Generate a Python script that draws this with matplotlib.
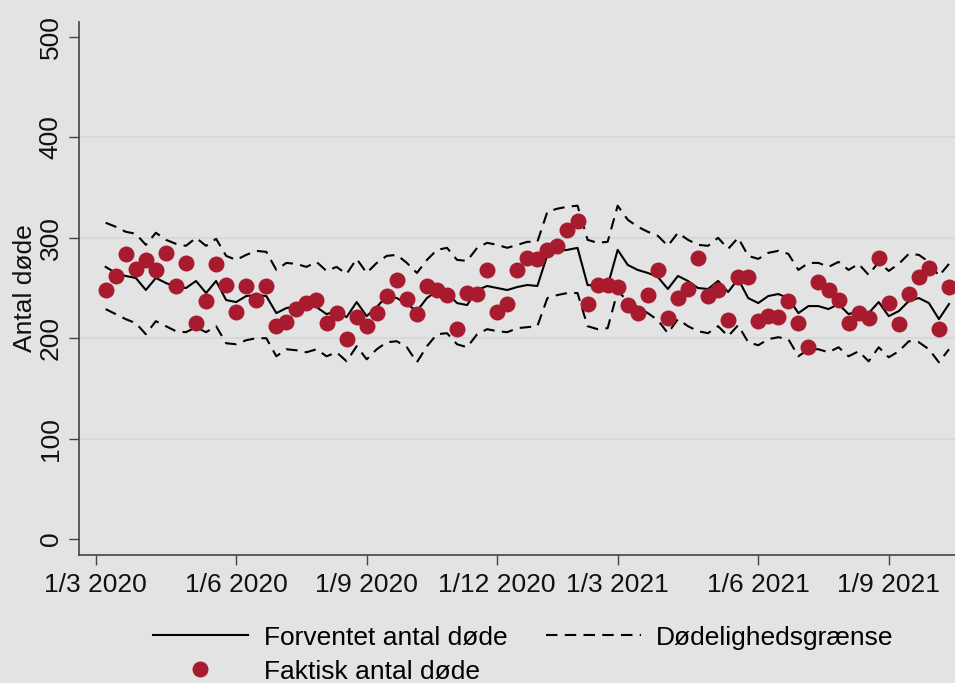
import numpy as np
import matplotlib
matplotlib.use('Agg')
import matplotlib.pyplot as plt

plt.rcParams['font.family'] = ['Liberation Sans', 'DejaVu Sans']

# weekly values (week 0 = first week after 1/3 2020)
forventet = [271, 265, 262, 260, 248, 260, 255, 251, 250, 257,
             245, 257, 238, 236, 242, 243, 242, 225, 230, 232,
             234, 231, 224, 227, 221, 236, 222, 231, 242, 240,
             234, 227, 240, 247, 245, 235, 233, 248, 252, 250,
             248, 251, 253, 252, 283, 287, 288, 290, 253, 252,
             252, 288, 273, 268, 265, 261, 249, 262, 257, 250,
             249, 257, 246, 259, 240, 235, 242, 244, 240, 225,
             232, 232, 229, 234, 224, 227, 225, 236, 222, 227,
             237, 240, 235, 219, 234]

oevre = [315, 311, 306, 304, 293, 305, 298, 294, 292, 300,
         292, 299, 282, 278, 283, 287, 286, 268, 275, 274,
         271, 276, 267, 271, 264, 279, 265, 275, 282, 283,
         275, 265, 278, 288, 290, 278, 277, 290, 295, 293,
         290, 293, 296, 296, 326, 329, 331, 332, 298, 295,
         296, 332, 318, 311, 306, 302, 292, 305, 298, 293,
         292, 300, 289, 300, 282, 279, 285, 287, 284, 268,
         275, 275, 271, 276, 268, 274, 263, 276, 267, 274,
         284, 283, 276, 262, 274]

nedre = [229, 224, 219, 215, 204, 217, 212, 207, 206, 211,
         206, 212, 195, 194, 198, 200, 200, 182, 189, 188,
         186, 189, 182, 186, 177, 192, 179, 189, 196, 197,
         191, 176, 192, 204, 205, 194, 191, 204, 209, 207,
         206, 210, 211, 212, 240, 243, 245, 245, 212, 209,
         210, 247, 237, 231, 225, 218, 205, 219, 212, 207,
         205, 212, 202, 213, 196, 193, 199, 201, 199, 182,
         189, 189, 186, 191, 182, 187, 177, 191, 181, 187,
         197, 196, 189, 176, 189]

faktisk = [248, 262, 284, 269, 278, 268, 285, 252, 275, 215,
           237, 274, 253, 226, 252, 238, 252, 212, 216, 229,
           235, 238, 215, 225, 199, 221, 212, 225, 242, 258,
           239, 224, 252, 248, 243, 209, 245, 244, 268, 226,
           234, 268, 280, 279, 288, 292, 308, 317, 234, 253,
           253, 251, 233, 225, 243, 268, 220, 240, 249, 280,
           242, 248, 218, 261, 261, 217, 222, 221, 237, 215,
           191, 256, 248, 238, 215, 225, 220, 280, 235, 214,
           244, 261, 270, 209, 251]

uge = np.arange(len(faktisk))

tick_uger = [-1, 13, 26, 39, 51, 65, 78]
tick_tekst = ['1/3 2020', '1/6 2020', '1/9 2020', '1/12 2020',
              '1/3 2021', '1/6 2021', '1/9 2021']

bg = '#e3e3e3'
fs = 19

fig = plt.figure(figsize=(9.55, 6.83), dpi=100, facecolor=bg)
ax = fig.add_axes([0.083, 0.1874, 0.917, 0.7808], facecolor=bg)

for v in [100, 200, 300, 400]:
    ax.axhline(v, color='#d1dbdb', lw=1.4, zorder=0)

l1, = ax.plot(uge, forventet, color='black', lw=1.5, zorder=2)
l2, = ax.plot(uge, oevre, color='black', lw=1.5, ls=(0, (5.5, 3.5)), zorder=2)
ax.plot(uge, nedre, color='black', lw=1.5, ls=(0, (5.5, 3.5)), zorder=2)
l3, = ax.plot(uge, faktisk, 'o', color='#a81a2d', ms=11.5, mew=0, zorder=3)

ax.set_xlim(-2.63, 84.6)
ax.set_ylim(-15.9, 515.2)
ax.set_yticks([0, 100, 200, 300, 400, 500])
ax.set_xticks(tick_uger)
ax.set_xticklabels(tick_tekst)

for s in ['top', 'right']:
    ax.spines[s].set_visible(False)
for s in ['left', 'bottom']:
    ax.spines[s].set_color('#444444')
    ax.spines[s].set_linewidth(1.2)

ax.tick_params(axis='both', length=7, width=1, color='#444444',
               labelsize=fs, labelcolor='#111111')
ax.tick_params(axis='y', pad=5)
for lab in ax.get_yticklabels():
    lab.set_rotation(90)
    lab.set_va('center')
ax.tick_params(axis='x', pad=6)

ax.set_ylabel('Antal døde', fontsize=fs, color='#111111', labelpad=1)

fig.legend([l1, l3, l2],
           ['Forventet antal døde', 'Faktisk antal døde', 'Dødelighedsgrænse'],
           ncol=2, frameon=False, fontsize=fs,
           loc='upper left', bbox_to_anchor=(0.16, 0.084),
           handlelength=3.6, handletextpad=0.6, columnspacing=1.45,
           labelspacing=0.38, borderpad=0, borderaxespad=0)

fig.savefig('out.png', dpi=100, facecolor=bg)
